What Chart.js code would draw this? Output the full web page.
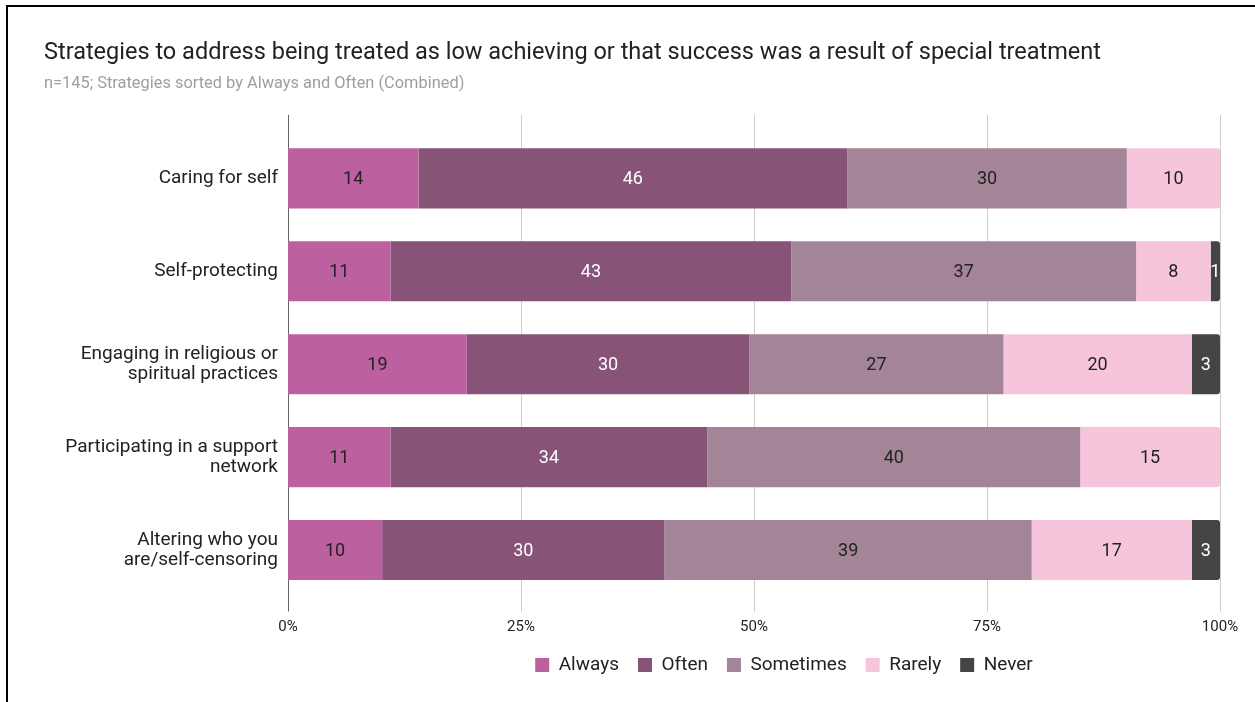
<!DOCTYPE html>
<html>
<head>
<meta charset="utf-8">
<script src="https://cdn.jsdelivr.net/npm/chart.js@4.4.1/dist/chart.umd.min.js"></script>
<style>
  html, body { margin: 0; padding: 0; background: #fff; overflow: hidden; }
  #wrap { position: relative; width: 1255px; height: 702px; }
  #grafico { position: absolute; left: 0; top: 0; }
  #moldura { position: absolute; left: 6px; top: 5px; width: 1400px; height: 900px; border: 2px solid #000; pointer-events: none; }
</style>
</head>
<body>
<div id="wrap">
  <canvas id="grafico" width="1255" height="702"></canvas>
  <div id="moldura"></div>
</div>
<script>
// categorias e respostas (contagens em %, cada linha normalizada para 100%)
const categorias = [
  ["Caring for self"],
  ["Self-protecting"],
  ["Engaging in religious or", "spiritual practices"],
  ["Participating in a support", "network"],
  ["Altering who you", "are/self-censoring"],
];
const always = [14, 11, 19, 11, 10];
const often = [46, 43, 30, 34, 30];
const sometimes = [30, 37, 27, 40, 39];
const rarely = [10, 8, 20, 15, 17];
const never = [0, 1, 3, 0, 3];
const xTicks = [0, 25, 50, 75, 100];

const series = [
  { nome: "Always", valores: always, cor: "#bd60a0", texto: "#222222" },
  { nome: "Often", valores: often, cor: "#875478", texto: "#ffffff" },
  { nome: "Sometimes", valores: sometimes, cor: "#a48597", texto: "#222222" },
  { nome: "Rarely", valores: rarely, cor: "#f6c5dc", texto: "#222222" },
  { nome: "Never", valores: never, cor: "#444444", texto: "#ffffff" },
];

const totais = categorias.map((_, i) =>
  series.reduce((acc, s) => acc + s.valores[i], 0)
);

// ultimo segmento nao-zero de cada barra (recebe o canto arredondado)
const ultimo = categorias.map((_, i) => {
  let k = 0;
  series.forEach((s, j) => { if (s.valores[i] > 0) k = j; });
  return k;
});

const FONTE = "Roboto, 'Noto Sans', sans-serif";

// rotulos dentro de cada segmento
const rotulosBarras = {
  id: "rotulosBarras",
  afterDatasetsDraw(chart) {
    const ctx = chart.ctx;
    ctx.save();
    ctx.font = `18px ${FONTE}`;
    ctx.textAlign = "center";
    ctx.textBaseline = "middle";
    chart.data.datasets.forEach((ds, d) => {
      const meta = chart.getDatasetMeta(d);
      meta.data.forEach((el, i) => {
        const v = series[d].valores[i];
        if (!v) return;
        ctx.fillStyle = series[d].texto;
        ctx.fillText(String(v), (el.x + el.base) / 2, el.y + 1);
      });
    });
    ctx.restore();
  },
};

// linhas de grade verticais um pouco alem da area das barras
const grade = {
  id: "grade",
  beforeDatasetsDraw(chart) {
    const { ctx, chartArea, scales } = chart;
    ctx.save();
    ctx.lineWidth = 1;
    scales.x.ticks.forEach((t) => {
      const x = Math.round(scales.x.getPixelForValue(t.value)) + 0.5;
      ctx.strokeStyle = t.value === 0 ? "#666666" : "#cccccc";
      ctx.beginPath();
      ctx.moveTo(x, chartArea.top - 17);
      ctx.lineTo(x, chartArea.bottom + 15);
      ctx.stroke();
    });
    ctx.restore();
  },
};

// legenda deslocada para a direita
const deslocaLegenda = {
  id: "deslocaLegenda",
  afterLayout(chart) {
    chart.legend.left += 152;
    chart.legend.right += 152;
  },
};

const ctx = document.getElementById("grafico").getContext("2d");

new Chart(ctx, {
  type: "bar",
  data: {
    labels: categorias,
    datasets: series.map((s, j) => ({
      label: s.nome,
      data: s.valores.map((v, i) => (v / totais[i]) * 100),
      backgroundColor: s.cor,
      borderWidth: 0,
      borderRadius: (c) =>
        ultimo[c.dataIndex] === j
          ? { topLeft: 0, bottomLeft: 0, topRight: 3, bottomRight: 3 }
          : 0,
      borderSkipped: false,
      barPercentage: 0.647,
      categoryPercentage: 1,
    })),
  },
  options: {
    indexAxis: "y",
    responsive: false,
    animation: false,
    layout: { padding: { left: 44, right: 35, top: 20, bottom: 17.5 } },
    scales: {
      x: {
        stacked: true,
        min: 0,
        max: 100,
        afterBuildTicks: (scale) => {
          scale.ticks = xTicks.map((v) => ({ value: v }));
        },
        afterFit: (scale) => {
          scale.height = 40;
          scale.paddingLeft = 0;
          scale.paddingRight = 0;
        },
        grid: { display: false, drawTicks: false },
        border: { display: false },
        ticks: {
          padding: 22,
          color: "#222222",
          font: { family: FONTE, size: 15 },
          callback: (v) => v + "%",
          maxRotation: 0,
        },
      },
      y: {
        stacked: true,
        grid: { display: false, drawTicks: false },
        border: { display: false },
        afterFit: (scale) => { scale.width = 244; },
        ticks: {
          padding: 10,
          color: "#222222",
          font: { family: FONTE, size: 19, lineHeight: 1.05 },
        },
      },
    },
    plugins: {
      title: {
        display: true,
        align: "start",
        text: "Strategies to address being treated as low achieving or that success was a result of special treatment",
        color: "#222222",
        font: { family: FONTE, size: 23.5, weight: "normal" },
        padding: { top: 19, bottom: 3 },
      },
      subtitle: {
        display: true,
        align: "start",
        text: "n=145; Strategies sorted by Always and Often (Combined)",
        color: "#9e9e9e",
        font: { family: FONTE, size: 16.4 },
        padding: { top: 4, bottom: 38 },
      },
      legend: {
        position: "bottom",
        labels: {
          boxWidth: 14,
          boxHeight: 14,
          padding: 19,
          color: "#222222",
          font: { family: FONTE, size: 19 },
        },
      },
      tooltip: { enabled: false },
    },
  },
  plugins: [grade, rotulosBarras, deslocaLegenda],
});
</script>
</body>
</html>
